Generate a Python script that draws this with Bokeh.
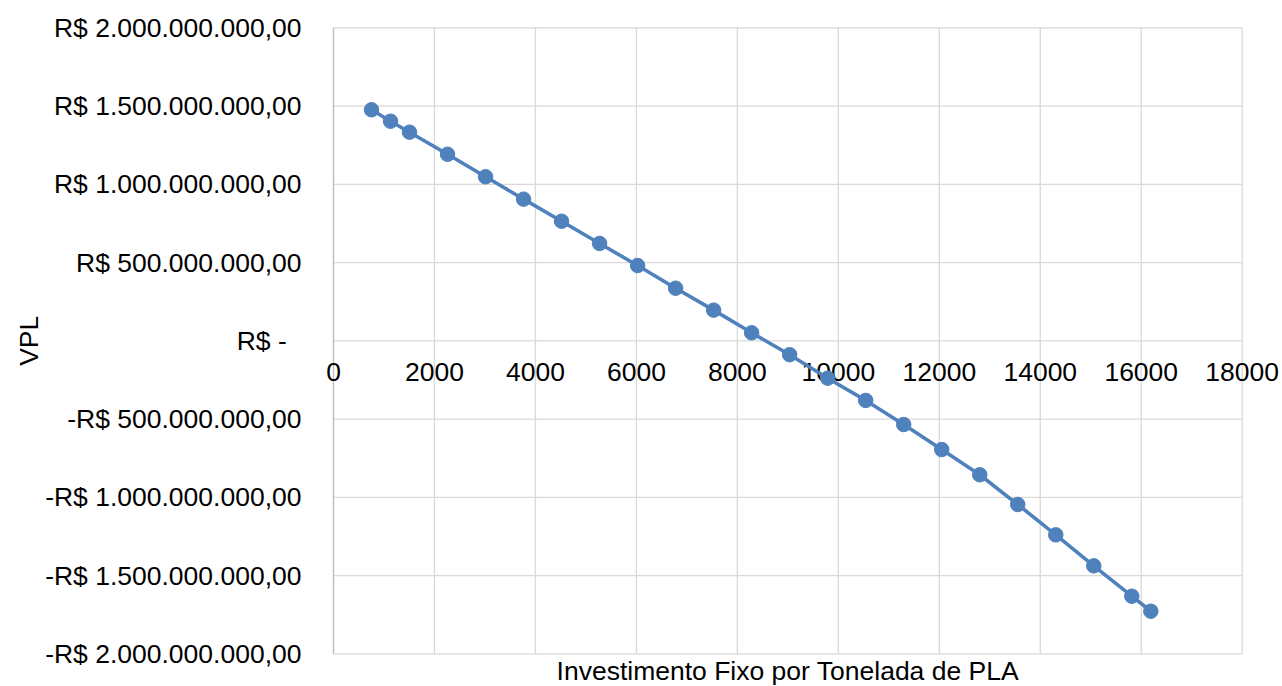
import math
from bokeh.plotting import figure
from bokeh.models import Range1d
from bokeh.core.properties import value
from bokeh.embed import file_html
from bokeh.resources import INLINE

# Fixed investment per tonne of PLA (R$/t) and resulting NPV (R$)
investimento = [753, 1130, 1506, 2259, 3012, 3765, 4518, 5271, 6024, 6777, 7530, 8283,
                9036, 9789, 10542, 11295, 12048, 12801, 13554, 14307, 15060, 15813, 16190]
vpl = [1.476e9, 1.403e9, 1.333e9, 1.192e9, 1.048e9, 0.905e9, 0.764e9, 0.622e9,
       0.481e9, 0.336e9, 0.196e9, 0.051e9, -0.089e9, -0.239e9, -0.381e9, -0.535e9,
       -0.695e9, -0.856e9, -1.046e9, -1.240e9, -1.438e9, -1.632e9, -1.728e9]

x_ticks = [0, 2000, 4000, 6000, 8000, 10000, 12000, 14000, 16000, 18000]
x_tick_labels = ["0", "2000", "4000", "6000", "8000", "10000", "12000", "14000", "16000", "18000"]
y_ticks = [-2e9, -1.5e9, -1e9, -5e8, 0, 5e8, 1e9, 1.5e9, 2e9]
y_tick_labels = ["-R$ 2.000.000.000,00", "-R$ 1.500.000.000,00", "-R$ 1.000.000.000,00",
                 "-R$ 500.000.000,00", "R$ -\u00a0\u00a0", "R$ 500.000.000,00",
                 "R$ 1.000.000.000,00", "R$ 1.500.000.000,00", "R$ 2.000.000.000,00"]
x_title = "Investimento Fixo por Tonelada de PLA"
y_title = "VPL"

FONT = value("Liberation Sans")
FSIZE = value("26.5px")
GRID = "#D9D9D9"
AXIS = "#BFBFBF"
BLUE = "#4F81BD"

# axis limits and where the plot area sits on the 1282 x 686 canvas
W, H = 1282, 686
X0, X1 = 0, 18000
Y0, Y1 = -2e9, 2e9
LEFT, RIGHT, TOP, BOTTOM = 333.0, 1241.7, 27.3, 653.3

# the canvas is one frame; ranges are padded so the plot area lands at LEFT..RIGHT, TOP..BOTTOM
ux = (X1 - X0) / (RIGHT - LEFT)
uy = (Y1 - Y0) / (BOTTOM - TOP)
x_range = Range1d(X0 - LEFT * ux, X1 + (W - RIGHT) * ux)
y_range = Range1d(Y0 - (H - BOTTOM) * uy, Y1 + TOP * uy)

p = figure(width=W, height=H, x_range=x_range, y_range=y_range,
           x_axis_location=None, y_axis_location=None,
           output_backend="svg", toolbar_location=None)
p.min_border = 0
p.grid.visible = False
p.outline_line_color = None
p.background_fill_color = "white"
p.border_fill_color = "white"

# gridlines, bounded to the plot area
p.segment(x0=x_ticks, x1=x_ticks, y0=[Y0] * len(x_ticks), y1=[Y1] * len(x_ticks),
          line_color=GRID, line_width=1.3)
p.segment(x0=[X0] * len(y_ticks), x1=[X1] * len(y_ticks), y0=y_ticks, y1=y_ticks,
          line_color=GRID, line_width=1.3)
# vertical axis line
p.segment(x0=[X0], x1=[X0], y0=[Y0], y1=[Y1], line_color=AXIS, line_width=1.3)

# currency tick labels, right-aligned left of the axis
p.text(x=[X0] * len(y_ticks), y=y_ticks, text=y_tick_labels, x_offset=-32,
       text_font=FONT, text_font_size=FSIZE, text_color="#000000",
       text_align="right", text_baseline="middle")

# horizontal tick labels hang just below the zero line, under the series
p.text(x=x_ticks, y=[0] * len(x_ticks), text=x_tick_labels, y_offset=31,
       text_font=FONT, text_font_size=FSIZE, text_color="#000000",
       text_align="center", text_baseline="middle")

# axis titles
p.text(x=[(X0 + X1) / 2], y=[Y0], text=[x_title], y_offset=17,
       text_font=FONT, text_font_size=FSIZE, text_color="#000000",
       text_align="center", text_baseline="middle")
p.text(x=[X0], y=[(Y0 + Y1) / 2], text=[y_title], x_offset=-305, angle=math.pi / 2,
       text_font=FONT, text_font_size=FSIZE, text_color="#000000",
       text_align="center", text_baseline="middle")

p.line(investimento, vpl, line_color=BLUE, line_width=3.6)
p.scatter(investimento, vpl, size=14.5, fill_color=BLUE, line_color=BLUE, line_width=1)

open("out.html", "w").write(file_html(p, INLINE))
